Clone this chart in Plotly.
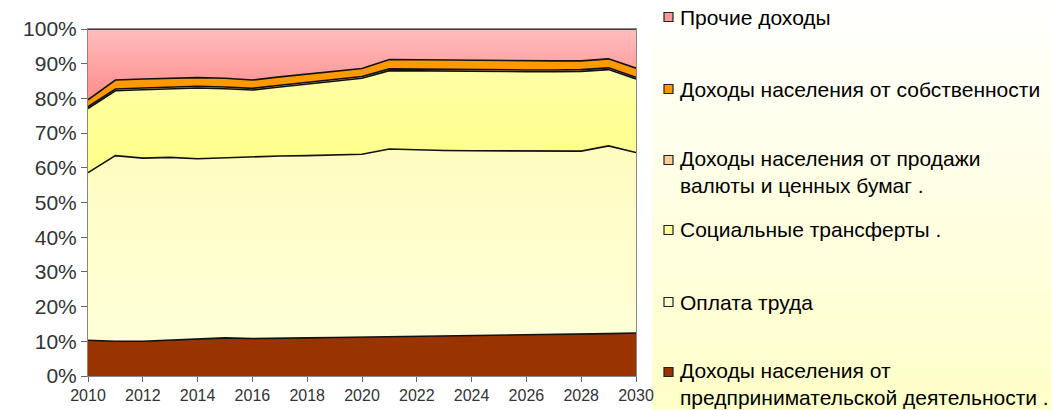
import plotly.graph_objects as go

years = list(range(2010, 2031))

entrepreneurial = [10.3, 10.0, 10.0, 10.3, 10.6, 11.0, 10.8, 11.0, 11.0, 11.1, 11.2,
                   11.4, 11.4, 11.5, 11.6, 11.7, 11.8, 12.0, 12.1, 12.2, 12.4]
wages = [48.3, 53.5, 52.8, 52.7, 52.0, 51.9, 52.4, 52.4, 52.5, 52.6, 52.7,
         54.0, 53.7, 53.5, 53.3, 53.2, 53.0, 52.8, 52.7, 54.1, 52.0]
social = [18.5, 18.7, 19.7, 19.7, 20.4, 19.9, 19.2, 19.9, 20.7, 21.4, 21.9,
          22.6, 22.8, 22.9, 22.9, 22.9, 22.9, 22.9, 23.0, 22.0, 21.2]
currency = [0.5] * 21
property_inc = [2.0, 2.6, 2.6, 2.6, 2.5, 2.5, 2.4, 2.4, 2.3, 2.3, 2.3,
                2.7, 2.7, 2.7, 2.7, 2.7, 2.7, 2.6, 2.5, 2.6, 2.6]
other = [20.4, 14.7, 14.4, 14.2, 14.0, 14.2, 14.7, 13.8, 13.0, 12.1, 11.4,
         8.8, 8.9, 8.9, 9.0, 9.0, 9.1, 9.2, 9.2, 8.6, 11.3]

series_names = [
    "Доходы населения от<br>предпринимательской деятельности .",
    "Оплата труда",
    "Социальные трансферты .",
    "Доходы населения от продажи<br>валюты и ценных бумаг .",
    "Доходы населения от собственности",
    "Прочие доходы",
]
series_values = [entrepreneurial, wages, social, currency, property_inc, other]
colors = ["#993300", "#FFFFCC", "#FFFF99", "#FFCC99", "#FF9900", "#FFA8A8"]

W, H = 1051, 410
L, R, T, B = 88, 636, 29, 376

fig = go.Figure()
for name, vals, col in zip(series_names, series_values, colors):
    fig.add_trace(go.Scatter(
        x=years, y=vals, name=name, mode="lines", stackgroup="one",
        line=dict(color="#111111", width=1.6), showlegend=False, fillcolor=col))

fig.data[-1].update(fillgradient=dict(type="vertical",
                                      colorscale=[[0, "#FF8C8C"], [1, "#FFBDBD"]]))
fig.data[1].update(fillgradient=dict(type="vertical",
                                     colorscale=[[0, "#FFFFD8"], [1, "#FFFCC0"]]))
fig.data[2].update(fillgradient=dict(type="vertical",
                                     colorscale=[[0, "#FFFF88"], [1, "#FFFFA6"]]))


def px(x):
    return (x - L) / (R - L)


def py(y):
    return (B - y) / (B - T)


shapes = []
n = 24
for i in range(n):
    y0 = i * H / n
    y1 = (i + 1) * H / n
    t = (i + 0.5) / n
    g = int(255 - 55 * t)
    shapes.append(dict(type="rect", xref="paper", yref="paper",
                       x0=px(652), x1=px(W + 5), y0=py(y1), y1=py(y0),
                       fillcolor=f"rgb(255,255,{g})", line=dict(width=0),
                       layer="below"))

legend_items = [
    ("Прочие доходы", "#FF9999", [17]),
    ("Доходы населения от собственности", "#FF9900", [89]),
    ("Доходы населения от продажи<br>валюты и ценных бумаг .", "#FFCC99", [160, 183]),
    ("Социальные трансферты .", "#FFFF99", [230]),
    ("Оплата труда", "#FFFFCC", [302]),
    ("Доходы населения от<br>предпринимательской деятельности .", "#993300", [372, 395]),
]
annotations = []
for text, col, ys in legend_items:
    y_first = ys[0]
    shapes.append(dict(type="rect", xref="paper", yref="paper",
                       x0=px(664), x1=px(673), y0=py(y_first + 4.5), y1=py(y_first - 4.5),
                       fillcolor=col, line=dict(color="#222222", width=1.2)))
    ymid = sum(ys) / len(ys)
    annotations.append(dict(text=text, xref="paper", yref="paper",
                            x=px(678), y=py(ymid), xanchor="left", yanchor="middle",
                            showarrow=False, align="left",
                            font=dict(family="Liberation Sans, Arial", size=21, color="#000000")))

fig.update_layout(
    width=W, height=H,
    margin=dict(l=L, r=W - R, t=T, b=H - B, pad=0, autoexpand=False),
    paper_bgcolor="white", plot_bgcolor="white",
    shapes=shapes, annotations=annotations,
    showlegend=False,
    xaxis=dict(range=[2010, 2030], tickmode="array", tickvals=list(range(2010, 2031, 2)),
               ticks="outside", ticklen=5, tickcolor="#666666", automargin=False,
               showline=True, linecolor="#888888", linewidth=1, mirror=True,
               showgrid=False, zeroline=False,
               tickfont=dict(family="Liberation Sans, Arial", size=16, color="#333333")),
    yaxis=dict(range=[0, 100], tickmode="array", tickvals=list(range(0, 101, 10)),
               ticktext=[f"{v}%" for v in range(0, 101, 10)],
               ticks="outside", ticklen=6, tickcolor="#666666", automargin=False,
               showline=True, linecolor="#888888", linewidth=1, mirror=True,
               showgrid=False, zeroline=False,
               tickfont=dict(family="Liberation Sans, Arial", size=21, color="#333333")),
)

fig.write_html("out.html", config={"displayModeBar": False},
               post_script="document.body.style.margin='0';")
